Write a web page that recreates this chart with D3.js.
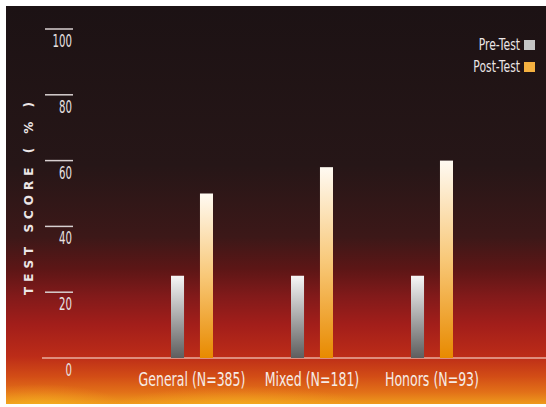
<!DOCTYPE html>
<html>
<head>
<meta charset="utf-8">
<script src="https://cdn.jsdelivr.net/npm/d3@7"></script>
<style>
  body { margin: 0; background: #fff; }
  svg { display: block; }
</style>
</head>
<body>
<svg id="chart" width="546" height="407"></svg>
<script>
const categories = ["General (N=385)", "Mixed (N=181)", "Honors (N=93)"];
const series = ["Pre-Test", "Post-Test"];
const preTest = [25, 25, 25];
const postTest = [50, 58, 60];
const yTicks = [0, 20, 40, 60, 80, 100];

const FONT = "'DejaVu Sans', sans-serif";

const svg = d3.select("#chart");
const defs = svg.append("defs");

// background: dark at top, red then orange glow at the bottom
const bg = defs.append("linearGradient")
  .attr("id", "bg").attr("x1", 0).attr("y1", 0).attr("x2", 0).attr("y2", 1);
[
  [0, "#1c1214"], [0.4, "#261617"], [0.58, "#3c1818"], [0.66, "#5c1616"],
  [0.73, "#821a1a"], [0.8, "#a21e1a"], [0.88, "#bc2c18"], [0.93, "#d24c16"],
  [0.97, "#e27018"], [1, "#ee9a1c"]
].forEach(([o, c]) => bg.append("stop").attr("offset", o).attr("stop-color", c));

const glow = defs.append("radialGradient").attr("id", "glow");
glow.append("stop").attr("offset", 0).attr("stop-color", "#f6c020").attr("stop-opacity", 0.85);
glow.append("stop").attr("offset", 1).attr("stop-color", "#f6a020").attr("stop-opacity", 0);

const preGrad = defs.append("linearGradient")
  .attr("id", "preGrad").attr("x1", 0).attr("y1", 0).attr("x2", 0).attr("y2", 1);
preGrad.append("stop").attr("offset", 0).attr("stop-color", "#f6f6f6");
preGrad.append("stop").attr("offset", 1).attr("stop-color", "#5e5e5e");

const postGrad = defs.append("linearGradient")
  .attr("id", "postGrad").attr("x1", 0).attr("y1", 0).attr("x2", 0).attr("y2", 1);
postGrad.append("stop").attr("offset", 0).attr("stop-color", "#fffaf2");
postGrad.append("stop").attr("offset", 0.5).attr("stop-color", "#f8c878");
postGrad.append("stop").attr("offset", 1).attr("stop-color", "#e88a00");

const panel = { x: 6, y: 6, w: 540, h: 398 };
svg.append("rect")
  .attr("x", panel.x).attr("y", panel.y)
  .attr("width", panel.w).attr("height", panel.h)
  .attr("fill", "url(#bg)");

const clip = defs.append("clipPath").attr("id", "panelClip");
clip.append("rect").attr("x", panel.x).attr("y", panel.y)
  .attr("width", panel.w).attr("height", panel.h);

const glows = svg.append("g").attr("clip-path", "url(#panelClip)");
glows.append("ellipse").attr("cx", 40).attr("cy", 412).attr("rx", 90).attr("ry", 28).attr("fill", "url(#glow)");
glows.append("ellipse").attr("cx", 240).attr("cy", 414).attr("rx", 140).attr("ry", 28).attr("fill", "url(#glow)");

// scales
const y = d3.scaleLinear().domain([0, 100]).range([358, 29]);
const x0 = d3.scaleBand().domain(categories).range([132, 492]).paddingInner(0.65).paddingOuter(0.325);
const x1 = d3.scaleBand().domain(series).range([0, x0.bandwidth()]).paddingInner(0.55);

// condensed-looking text: horizontal squeeze of a normal font
function narrowText(sel, sx) {
  return sel.attr("transform", d => `translate(${d.x},${d.y}) scale(${sx},1)`);
}

// y axis ticks: short lines with labels under them
const ticks = svg.append("g");
ticks.selectAll("line").data(yTicks.filter(d => d > 0)).join("line")
  .attr("x1", 45).attr("x2", 73)
  .attr("y1", d => y(d)).attr("y2", d => y(d))
  .attr("stroke", "#d8d0d0").attr("stroke-width", 1.5);
ticks.selectAll("text").data(yTicks.map(v => ({ v, x: 72, y: y(v) + 18 }))).join("text")
  .call(narrowText, 0.6)
  .attr("text-anchor", "end")
  .attr("fill", "#e8e2e2")
  .style("font-family", FONT).style("font-size", "17px")
  .text(d => d.v);

// baseline
svg.append("line")
  .attr("x1", 42).attr("x2", 546)
  .attr("y1", y(0)).attr("y2", y(0))
  .attr("stroke", "#f0c4b8").attr("stroke-opacity", 0.85).attr("stroke-width", 1.5);

// axis title
svg.append("text")
  .attr("transform", `translate(33,196) rotate(-90)`)
  .attr("text-anchor", "middle")
  .attr("fill", "#ece6e6")
  .style("font-family", FONT)
  .style("font-size", "12px").style("font-weight", "bold")
  .style("letter-spacing", "5px")
  .text("TEST SCORE ( % )");

// bars
const rows = categories.map((c, i) => ({ cat: c, vals: [preTest[i], postTest[i]] }));
const groups = svg.append("g").selectAll("g").data(rows).join("g")
  .attr("transform", d => `translate(${x0(d.cat)},0)`);
groups.selectAll("rect")
  .data(d => d.vals.map((v, j) => ({ s: series[j], v })))
  .join("rect")
  .attr("x", d => x1(d.s))
  .attr("width", x1.bandwidth())
  .attr("y", d => y(d.v))
  .attr("height", d => y(0) - y(d.v))
  .attr("fill", d => d.s === "Pre-Test" ? "url(#preGrad)" : "url(#postGrad)");

// category labels
svg.append("g").selectAll("text")
  .data(categories.map(c => ({ c, x: x0(c) + x0.bandwidth() / 2, y: 386 })))
  .join("text")
  .call(narrowText, 0.66)
  .attr("text-anchor", "middle")
  .attr("fill", "#f6ece6")
  .style("font-family", FONT).style("font-size", "19px")
  .text(d => d.c);

// legend
const legendColors = ["#c4c4c4", "#f4b040"];
const legend = svg.append("g").selectAll("g").data(series).join("g")
  .attr("transform", (d, i) => `translate(0,${45 + i * 22})`);
legend.append("text")
  .datum(d => ({ s: d, x: 520, y: 5 }))
  .call(narrowText, 0.72)
  .attr("text-anchor", "end")
  .attr("fill", "#ece6e6")
  .style("font-family", FONT).style("font-size", "15px")
  .text(d => d.s);
legend.append("rect")
  .attr("x", 524).attr("y", -5)
  .attr("width", 11).attr("height", 10)
  .attr("fill", (d, i) => legendColors[i]);
</script>
</body>
</html>
